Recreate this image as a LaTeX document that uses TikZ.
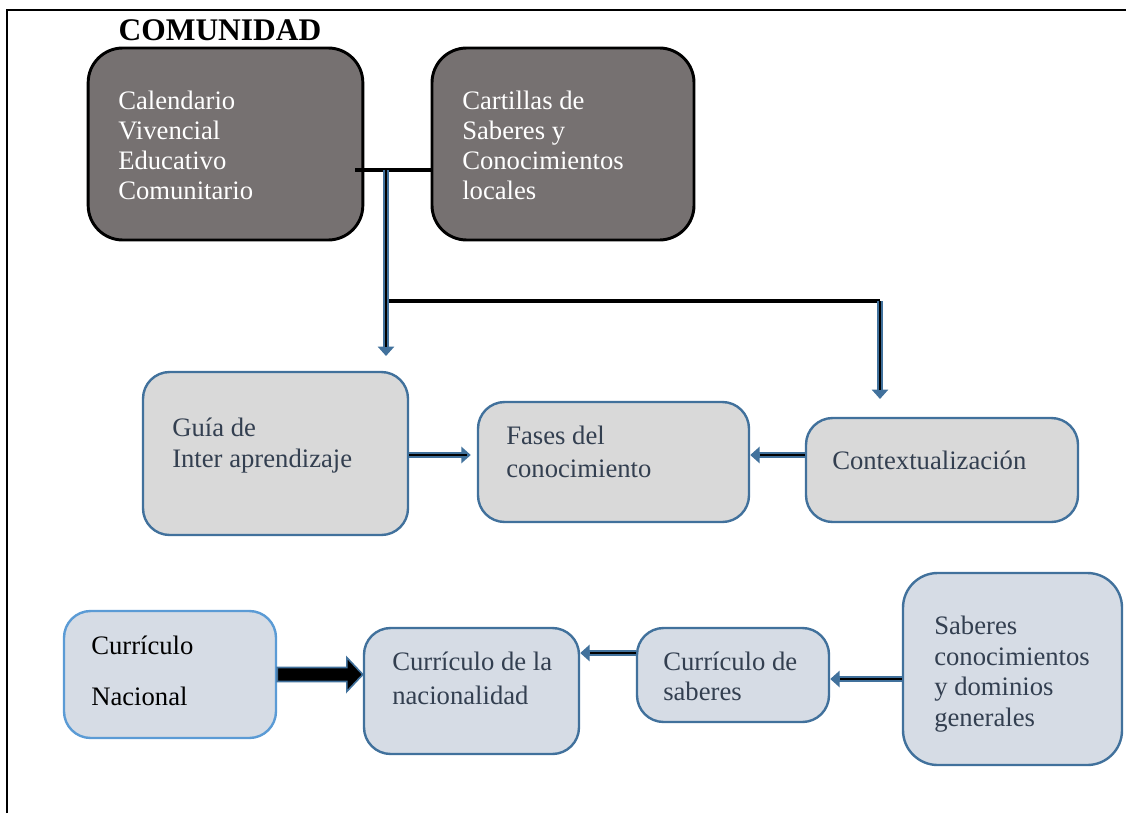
\documentclass[tikz,border=0pt]{standalone}
\usepackage{fontspec}
\setmainfont{Liberation Serif}
\usetikzlibrary{arrows.meta,calc}
\definecolor{ablue}{HTML}{41719C}
\definecolor{lblue}{HTML}{5B9BD5}
\definecolor{darkfill}{HTML}{767171}
\definecolor{midfill}{HTML}{D9D9D9}
\definecolor{lowfill}{HTML}{D6DCE5}
\definecolor{txtdark}{HTML}{333F50}
\tikzset{
  darkbox/.style={draw=black, fill=darkfill, line width=2.2pt, rounded corners=26pt, inner sep=0pt},
  midbox/.style={draw=ablue, fill=midfill, line width=1.8pt, rounded corners=20pt, inner sep=0pt},
  lowbox/.style={draw=ablue, fill=lowfill, line width=1.8pt, rounded corners=20pt, inner sep=0pt},
  txt/.style={anchor=west, align=left, inner sep=0pt, font=\fontsize{20}{22.5}\selectfont,
    execute at begin node=\strut, execute at end node=\strut},
  blk/.style={draw=black, line width=2.6pt},
  darr/.style={draw=ablue, line width=4.5pt, -{Triangle[length=7pt,width=12pt]},
    postaction={draw=black, line width=1.8pt, -, shorten >=7pt}},
  bigarr/.style={draw=ablue, fill=black, line width=1.2pt, line join=miter}
}
\begin{document}
\begin{tikzpicture}[x=0.75pt,y=-0.75pt]
\useasboundingbox (0,0) rectangle (1126,813);
% frame
\draw[line width=1.6pt] (7,813) -- (7,10) -- (1126,10);
% title
\node[inner sep=0pt, anchor=base, font=\fontsize{23.6}{26}\selectfont\bfseries] (title) at (220,41) {COMUNIDAD};
% boxes
\node[darkbox, minimum width=206pt, minimum height=144pt] (b1) at (225.5,144) {};
\node[darkbox, minimum width=196.5pt, minimum height=144pt] (b2) at (563,144) {};
\node[midbox, minimum width=198.75pt, minimum height=122.25pt] (b3) at (275.5,453.5) {};
\node[midbox, minimum width=203.25pt, minimum height=90pt] (b4) at (613.5,462) {};
\node[midbox, minimum width=204pt, minimum height=78pt] (b5) at (942,470) {};
\node[lowbox, draw=lblue, minimum width=159pt, minimum height=95.25pt] (b6) at (170,674.5) {};
\node[lowbox, minimum width=161.25pt, minimum height=94.5pt] (b7) at (471.5,691) {};
\node[lowbox, minimum width=144pt, minimum height=70.5pt] (b8) at (733,675) {};
\node[lowbox, rounded corners=26pt, minimum width=164.25pt, minimum height=144pt] (b9) at (1012.5,669) {};
% texts
\node[txt, text=white] (t1) at (118,150) {Calendario\\Vivencial\\Educativo\\Comunitario};
\node[txt, text=white] (t2) at (462,150) {Cartillas de\\Saberes y\\Conocimientos\\locales};
\node[txt, text=txtdark, font=\fontsize{20}{23.25}\selectfont] (t3) at (172,447) {Guía de\\Inter aprendizaje};
\node[txt, text=txtdark, font=\fontsize{20}{24.75}\selectfont] (t4) at (506,457) {Fases del\\conocimiento};
\node[txt, text=txtdark] (t5) at (832,463) {Contextualización};
\node[txt, text=black, font=\fontsize{20}{38.25}\selectfont] (t6) at (91,678) {Currículo\\Nacional};
\node[txt, text=txtdark, font=\fontsize{20}{25.5}\selectfont] (t7) at (392,683) {Currículo de la\\nacionalidad};
\node[txt, text=txtdark] (t8) at (663,681) {Currículo de\\saberes};
\node[txt, text=txtdark, font=\fontsize{20}{23}\selectfont] (t9) at (934,676) {Saberes\\conocimientos\\y dominios\\generales};
% junction coordinates
\coordinate (j0) at (355,170);
\coordinate (j1) at (386,170);
\coordinate (e1) at (386,356);
\coordinate (j2) at (383,301);
\coordinate (j3) at (880,301);
\coordinate (e3) at (880,399);
\coordinate (y1) at (0,455);
\coordinate (y2) at (0,653);
\coordinate (y3) at (0,679);
% black lines
\draw[blk] (j0) -- (b2.west |- j0);
\draw[blk] (j2) -- (j3);
% blue arrows
\draw[darr] (j1) -- (e1);
\draw[darr] (j3) -- (e3);
\draw[darr, shorten >=4.5pt] (b3.east |- y1) -- (b4.west |- y1);
\draw[darr] (b5.west |- y1) -- (b4.east |- y1);
\draw[darr] (b8.west |- y2) -- (b7.east |- y2);
\draw[darr] (b9.west |- y3) -- (b8.east |- y3);
% big arrow
\coordinate (ah) at (b7.west |- b6.east);
\draw[bigarr] ($(b6.east)+(0,-7)$) -- ($(ah)+(-16,-7)$) -- ($(ah)+(-16,-17)$) -- (ah)
  -- ($(ah)+(-16,17)$) -- ($(ah)+(-16,7)$) -- ($(b6.east)+(0,7)$) -- cycle;
\end{tikzpicture}
\end{document}
